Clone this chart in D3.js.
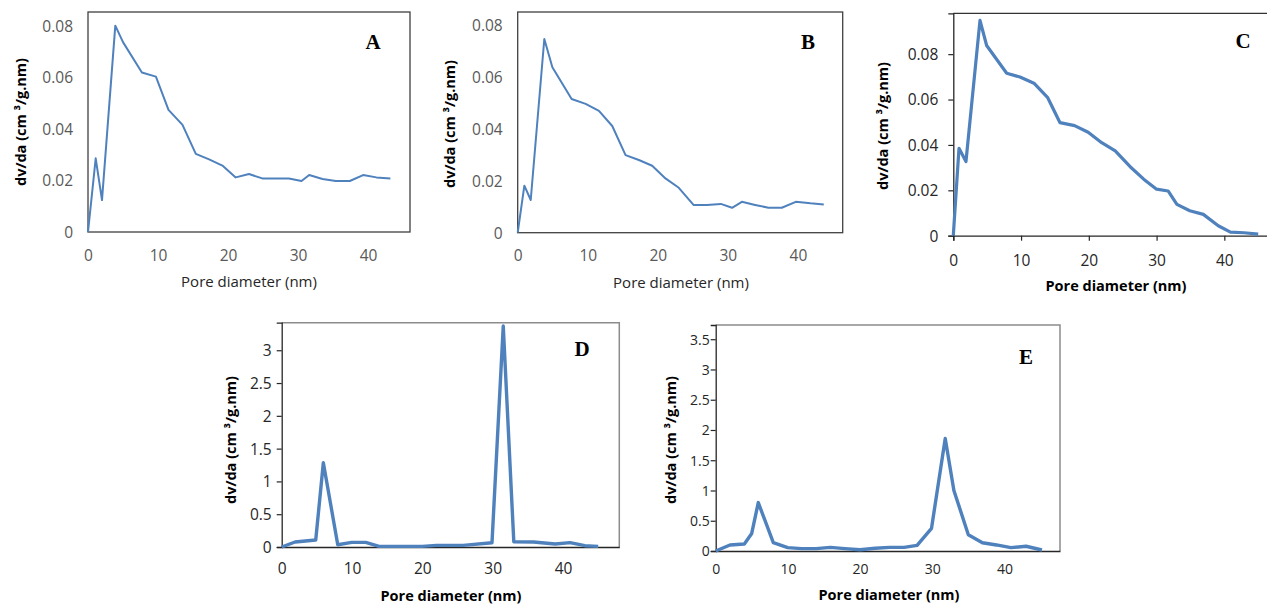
<!DOCTYPE html>
<html><head><meta charset="utf-8">
<script src="https://cdn.jsdelivr.net/npm/d3@7"></script>
<style>body{margin:0;background:#fff}svg{display:block}</style>
</head><body>
<svg id="c" width="1267" height="604"></svg>
<script>
// ---------- data ----------
const aX = [0, 1.1, 2, 3.9, 5, 7.7, 9.7, 11.5, 13.5, 15.4, 17.3, 19.2, 21.1, 23, 24.9, 28.7, 30.5, 31.6, 33.5, 35.4, 37.4, 39.3, 41.2, 43.2];
const aY = [0, 0.0286, 0.0124, 0.0801, 0.0737, 0.0619, 0.0603, 0.0474, 0.0416, 0.0303, 0.0282, 0.0258, 0.0212, 0.0225, 0.0208, 0.0208, 0.0198, 0.0221, 0.0206, 0.0198, 0.0198, 0.0221, 0.0212, 0.0208];
const bX = [0, 0.95, 1.86, 3.8, 4.95, 7.7, 9.7, 11.6, 13.5, 15.4, 17.3, 19.2, 21.1, 23, 25.1, 27, 29, 30.6, 32, 33.9, 35.8, 37.7, 39.7, 41.8, 43.7];
const bY = [0, 0.0181, 0.0126, 0.0746, 0.0637, 0.0515, 0.0496, 0.0469, 0.0411, 0.0299, 0.028, 0.0258, 0.0209, 0.0173, 0.0107, 0.0107, 0.0111, 0.0096, 0.0119, 0.0107, 0.0096, 0.0096, 0.0119, 0.0113, 0.0109];
const cX = [0, 0.84, 1.87, 3.94, 4.92, 7.88, 9.84, 11.9, 13.9, 15.75, 17.9, 19.9, 21.9, 23.9, 26.1, 28.1, 30, 31.7, 33, 34.9, 36.9, 39.1, 40.9, 42.9, 45];
const cY = [0, 0.0385, 0.0327, 0.0949, 0.0838, 0.0716, 0.0699, 0.0672, 0.061, 0.0498, 0.0485, 0.0456, 0.041, 0.0374, 0.0304, 0.0249, 0.0205, 0.0197, 0.0138, 0.011, 0.0094, 0.0044, 0.0016, 0.0013, 0.0007];
const dX = [0, 1.9, 4.84, 5.92, 7.97, 9.96, 11.95, 13.84, 20, 22, 25.8, 29.9, 31.5, 33, 35.8, 38.9, 41, 43.1, 45];
const dY = [0, 0.076, 0.107, 1.285, 0.035, 0.071, 0.071, 0.01, 0.01, 0.025, 0.025, 0.065, 3.37, 0.08, 0.076, 0.046, 0.066, 0.02, 0.01];
const eX = [0, 1.98, 3.97, 4.99, 5.9, 7.98, 9.98, 11.9, 13.9, 15.9, 17.9, 20, 22.1, 24.1, 26.1, 27.9, 29.9, 31.8, 33, 35, 36.95, 38.9, 40.9, 43, 45.2];
const eY = [0, 0.099, 0.116, 0.29, 0.8, 0.137, 0.055, 0.04, 0.04, 0.06, 0.04, 0.02, 0.045, 0.06, 0.06, 0.094, 0.375, 1.86, 1.0, 0.27, 0.137, 0.1, 0.055, 0.078, 0.017];

const xTicks = [0, 10, 20, 30, 40];
const yTicksSmall = [0, 0.02, 0.04, 0.06, 0.08];
const yTicksD = [0, 0.5, 1, 1.5, 2, 2.5, 3];
const yTicksE = [0, 0.5, 1, 1.5, 2, 2.5, 3, 3.5];
const panelLetters = ["A", "B", "C", "D", "E"];
const yTitle = "dv/da (cm \u00B3/g.nm)";
const xTitle = "Pore diameter (nm)";

// ---------- layout ----------
const svg = d3.select("#c");
const FONT = "'Open Sans', Lato, sans-serif";

const panels = [
  {xs: aX, ys: aY, yt: yTicksSmall, L: 88, R: 410, T: 12, B: 232, xMax: 46, yMax: 0.0854,
   style: "box", lw: 2, tickCol: "#595959", tickFs: 15.5, xBold: false, yGap: 15, xLabY: 255,
   yTitleX: 20, yTitleY: 122, xTitleX: 249, xTitleY: 281, letterX: 373, letterY: 49},
  {xs: bX, ys: bY, yt: yTicksSmall, L: 517.7, R: 842.7, T: 12, B: 232.7, xMax: 46.4, yMax: 0.085,
   style: "box", lw: 2, tickCol: "#595959", tickFs: 15.5, xBold: false, yGap: 15, xLabY: 255,
   yTitleX: 449, yTitleY: 124, xTitleX: 681, xTitleY: 282, letterX: 808, letterY: 49},
  {xs: cX, ys: cY, yt: yTicksSmall, L: 953.3, R: 1267.7, T: 13.3, B: 235.7, xMax: 46.4, yMax: 0.098,
   style: "axes", lw: 3.2, tickCol: "#262626", tickFs: 15.5, xBold: true, yGap: 15, xLabY: 260,
   yTitleX: 882, yTitleY: 126, xTitleX: 1116, xTitleY: 285, letterX: 1243, letterY: 48},
  {xs: dX, ys: dY, yt: yTicksD, L: 281.7, R: 619.3, T: 322.7, B: 547, xMax: 48.0, yMax: 3.42,
   style: "axes2", lw: 3.4, tickCol: "#262626", tickFs: 15.5, xBold: true, yGap: 10, xLabY: 568,
   yTitleX: 230, yTitleY: 440, xTitleX: 451, xTitleY: 595, letterX: 582, letterY: 356},
  {xs: eX, ys: eY, yt: yTicksE, L: 715.7, R: 1060, T: 325, B: 551, xMax: 47.7, yMax: 3.735,
   style: "axes2", lw: 3.4, tickCol: "#262626", tickFs: 14, xBold: true, yGap: 6, xLabY: 568,
   yTitleX: 670, yTitleY: 440, xTitleX: 889, xTitleY: 594, letterX: 1026, letterY: 364}
];

panels.forEach((p, i) => {
  const x = d3.scaleLinear().domain([0, p.xMax]).range([p.L, p.R]);
  const y = d3.scaleLinear().domain([0, p.yMax]).range([p.B, p.T]);
  const g = svg.append("g");

  // frame
  if (p.style === "box") {
    g.append("rect").attr("x", p.L).attr("y", p.T).attr("width", p.R - p.L).attr("height", p.B - p.T)
      .attr("fill", "none").attr("stroke", "#404040").attr("stroke-width", 1.3);
  } else if (p.style === "axes") {
    g.append("line").attr("x1", p.L).attr("x2", p.R).attr("y1", p.T).attr("y2", p.T)
      .attr("stroke", "#333").attr("stroke-width", 1.3);
  } else {
    g.append("path").attr("d", `M${p.L},${p.T}H${p.R}V${p.B}`)
      .attr("fill", "none").attr("stroke", "#8c8c8c").attr("stroke-width", 1.5);
  }

  const tl = p.style === "box" ? 0 : 5;
  const yAxis = g.append("g").attr("transform", `translate(${p.L},0)`)
    .call(d3.axisLeft(y).tickValues(p.yt).tickSize(tl).tickPadding(p.yGap - tl).tickFormat(d => String(d)));
  const xAxis = g.append("g").attr("transform", `translate(0,${p.B})`)
    .call(d3.axisBottom(x).tickValues(xTicks).tickSize(p.style === "axes" ? 5 : 0).tickPadding(0).tickFormat(d => String(d)));
  [yAxis, xAxis].forEach(a => {
    a.selectAll("text").attr("fill", p.tickCol).style("font-family", FONT).style("font-size", p.tickFs + "px");
    a.selectAll("line").attr("stroke", "#262626").attr("stroke-width", 1.2);
    a.select(".domain").attr("stroke", p.style === "box" ? "none" : "#262626").attr("stroke-width", 1.3);
  });
  xAxis.selectAll("text").attr("y", null).attr("dy", null)
    .attr("y", p.xLabY - p.B).attr("dominant-baseline", "central");
  yAxis.selectAll("text").attr("dy", "0.35em");

  // line
  const pts = p.xs.map((v, k) => [v, p.ys[k]]);
  g.append("path").datum(pts)
    .attr("d", d3.line().x(d => x(d[0])).y(d => y(d[1])))
    .attr("fill", "none").attr("stroke", "#4F81BD").attr("stroke-width", p.lw)
    .attr("stroke-linejoin", "round");

  // titles
  g.append("text").attr("transform", `translate(${p.yTitleX},${p.yTitleY}) rotate(-90)`)
    .attr("text-anchor", "middle").attr("dominant-baseline", "central")
    .style("font-family", FONT).style("font-weight", "bold").style("font-size", "14.5px")
    .attr("fill", "#000").text(yTitle);
  g.append("text").attr("x", p.xTitleX).attr("y", p.xTitleY)
    .attr("text-anchor", "middle").attr("dominant-baseline", "central")
    .style("font-family", FONT).style("font-weight", p.xBold ? "bold" : "normal")
    .style("font-size", p.xBold ? "14.5px" : "15px").attr("fill", p.xBold ? "#000" : "#262626").text(xTitle);
  g.append("text").attr("x", p.letterX).attr("y", p.letterY).attr("text-anchor", "middle")
    .style("font-family", "'Liberation Serif', 'Times New Roman', serif").style("font-weight", "bold")
    .style("font-size", "21px").attr("fill", "#000").text(panelLetters[i]);
});
</script>
</body></html>
